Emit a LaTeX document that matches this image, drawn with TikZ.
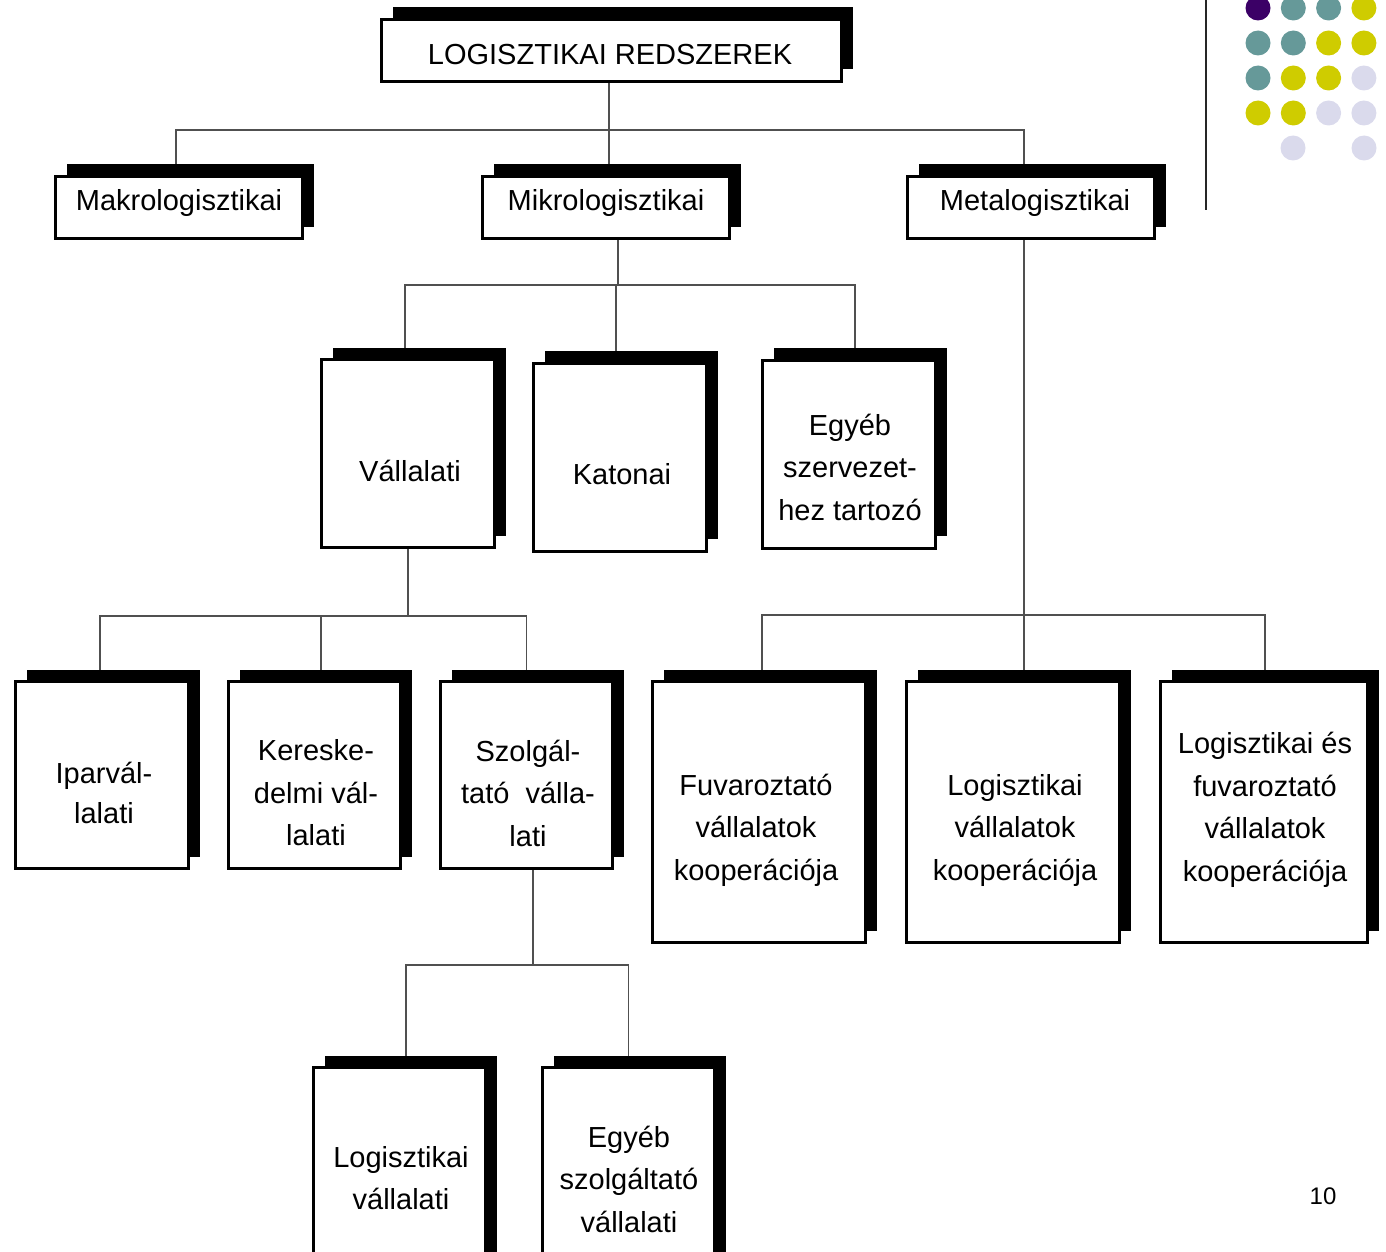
\documentclass[tikz,border=0pt]{standalone}
\usepackage{fontspec}
\setmainfont{Liberation Sans}
\usetikzlibrary{shadows}
\pgfdeclarelayer{back}
\pgfsetlayers{back,main}
\definecolor{dotpurple}{HTML}{3B0066}
\definecolor{dotteal}{HTML}{669999}
\definecolor{dotyellow}{HTML}{CFCC00}
\definecolor{dotlav}{HTML}{DADAEC}
\definecolor{connc}{HTML}{505050}
\begin{document}
\begin{tikzpicture}[x=1pt,y=-1pt,
  box/.style={draw=black, line width=3pt, fill=white, inner sep=0pt,
    general shadow={fill=black, shadow xshift=11.5pt, shadow yshift=12pt}},
  wide/.style={box, minimum width=247pt, minimum height=62pt},
  tall/.style={box, minimum width=173pt, minimum height=188pt},
  big/.style={box, minimum width=213pt, minimum height=261pt},
  txt/.style={align=center, inner sep=0pt, font=\fontsize{29}{42.5}\selectfont},
  conn/.style={draw=connc, line width=1.5pt},
  dot/.style={circle, inner sep=0pt, minimum size=25pt}]
\useasboundingbox (0,0) rectangle (1386,1252);
\clip (0,0) rectangle (1386,1252);

% junctions of the tree lines
\coordinate (j1) at (609,130);
\coordinate (j2) at (618,285);
\coordinate (j3) at (408,616);
\coordinate (j4) at (1024,615);
\coordinate (j5) at (533,965);

% boxes
\node[box, minimum width=460pt, minimum height=62pt] (top) at (611.5,50.5) {};
\node[wide] (makro) at (179,207.5) {};
\node[wide] (mikro) at (606,207.5) {};
\node[wide] (meta) at (1031,207.5) {};
\node[tall] (vall) at (408,453.5) {};
\node[tall] (kat) at (620,457) {};
\node[tall] (egy) at (849,454) {};
\node[tall, minimum height=187pt] (ipar) at (102,775) {};
\node[tall, minimum height=187pt, minimum width=172pt] (ker) at (314.5,775) {};
\node[tall, minimum height=187pt, minimum width=172pt] (szolg) at (526.5,775) {};
\node[big] (fuv) at (759,812) {};
\node[big] (lv) at (1013,812) {};
\node[big, minimum width=207pt] (lfe) at (1264,812) {};
\node[box, minimum width=172pt, minimum height=231pt] (logv) at (399.5,1183) {};
\node[box, minimum width=172pt, minimum height=231pt] (egy2) at (628.5,1183) {};

% tree lines, kept behind the boxes
\begin{pgfonlayer}{back}
\draw[conn] (top.south -| j1) -- (mikro.north -| j1);
\draw[conn] ([xshift=-3pt]makro.north) |- (j1) -| ([xshift=-7pt]meta.north);
\draw[conn] (mikro.south -| j2) -- (j2);
\draw[conn] ([xshift=-3pt]vall.north) |- (j2) -| ([xshift=6pt]egy.north);
\draw[conn] ([xshift=-4pt]kat.north) -- ([xshift=-4pt]kat.north |- j2);
\draw[conn] (vall.south) -- (j3);
\draw[conn] ([xshift=-2pt]ipar.north) |- (j3) -| (szolg.north);
\draw[conn] ([xshift=6.5pt]ker.north) -- ([xshift=6.5pt]ker.north |- j3);
\draw[conn] (meta.south -| j4) -- (lv.north -| j4);
\draw[conn] ([xshift=3pt]fuv.north) |- (j4) -| ([xshift=1pt]lfe.north);
\draw[conn] (szolg.south -| j5) -- (j5);
\draw[conn] ([xshift=6.5pt]logv.north) |- (j5) -| (egy2.north);
\end{pgfonlayer}

% texts
\node[txt] (t-top) at (610,55) {LOGISZTIKAI REDSZEREK};
\node[txt] (t-makro) at (179,203) {Makrologisztikai};
\node[txt] (t-mikro) at (606,203) {Mikrologisztikai};
\node[txt] (t-meta) at (1035,203) {Metalogisztikai};
\node[txt] (t-vall) at (410,471) {Vállalati};
\node[txt] (t-kat) at (622,474) {Katonai};
\node[txt] (t-egy) at (850,467) {Egyéb\\szervezet-\\hez tartozó};
\node[txt, font=\fontsize{29}{40}\selectfont] (t-ipar) at (104,793) {Iparvál-\\lalati};
\node[txt] (t-ker) at (316,793) {Kereske-\\delmi vál-\\lalati};
\node[txt] (t-szolg) at (528,793) {Szolgál-\\tató\ \ válla-\\lati};
\node[txt] (t-fuv) at (756,830) {Fuvaroztató\\vállalatok\\kooperációja};
\node[txt] (t-lv) at (1015,830) {Logisztikai\\vállalatok\\kooperációja};
\node[txt] (t-lfe) at (1265,810) {Logisztikai és\\fuvaroztató\\vállalatok\\kooperációja};
\node[txt] (t-logv) at (401,1178) {Logisztikai\\vállalati};
\node[txt] (t-egy2) at (629,1179) {Egyéb\\szolgáltató\\vállalati};

% page furniture: rule, dot pattern, page number
\draw[black!85, line width=2pt] (1206,0) -- (1206,210);
\foreach \c [count=\i] in {dotpurple,dotteal,dotteal,dotyellow}
  \node[dot, fill=\c] (d1-\i) at (1258+35.3*\i-35.3,8) {};
\foreach \c [count=\i] in {dotteal,dotteal,dotyellow,dotyellow}
  \node[dot, fill=\c] (d2-\i) at (1258+35.3*\i-35.3,43) {};
\foreach \c [count=\i] in {dotteal,dotyellow,dotyellow,dotlav}
  \node[dot, fill=\c] (d3-\i) at (1258+35.3*\i-35.3,78) {};
\foreach \c [count=\i] in {dotyellow,dotyellow,dotlav,dotlav}
  \node[dot, fill=\c] (d4-\i) at (1258+35.3*\i-35.3,113) {};
\node[dot, fill=dotlav] (d5-2) at (1293,148) {};
\node[dot, fill=dotlav] (d5-4) at (1364,148) {};
\node[inner sep=0pt, font=\fontsize{24}{28}\selectfont] (pnum) at (1323,1196) {10};
\end{tikzpicture}
\end{document}
